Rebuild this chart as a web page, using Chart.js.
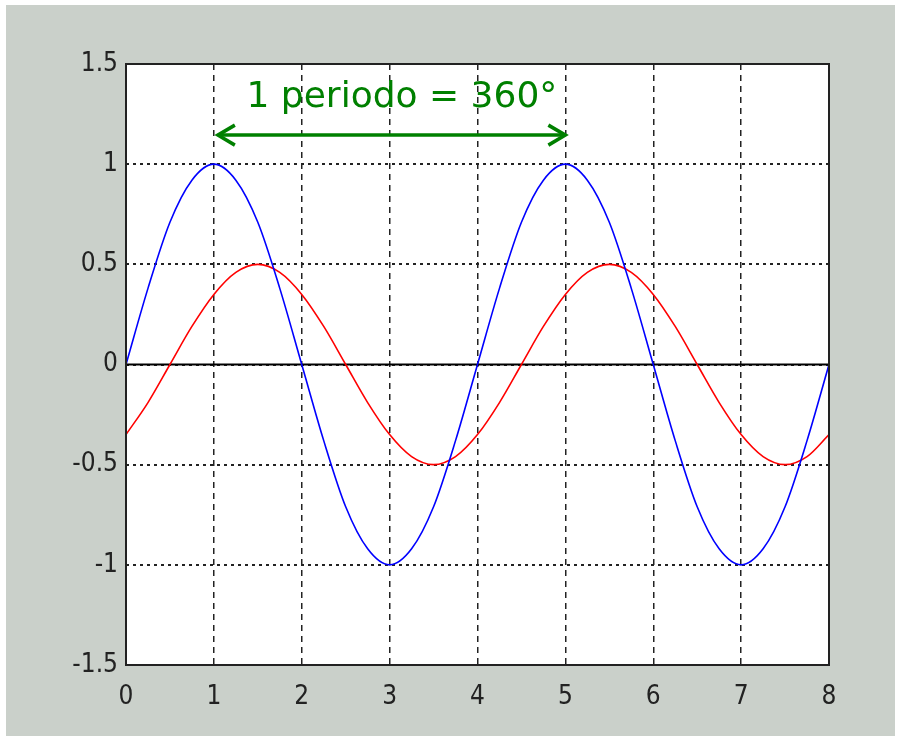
<!DOCTYPE html>
<html>
<head>
<meta charset="utf-8">
<title>1 periodo = 360°</title>
<script src="https://cdn.jsdelivr.net/npm/chart.js@4.4.1/dist/chart.umd.min.js"></script>
<style>
  html, body { margin: 0; padding: 0; background: #ffffff; }
  #wrap { position: absolute; left: 0; top: 0; width: 901px; height: 742px; }
  #frame { position: absolute; left: 6px; top: 5px; width: 889px; height: 731px; background: #cad0ca; }
  canvas { position: absolute; left: 0; top: 0; }
</style>
</head>
<body>
<div id="wrap">
  <div id="frame"></div>
  <canvas id="myChart" width="901" height="742"></canvas>
</div>
<script>
// valores (paso 0.25)
const xValues = [0, 0.25, 0.5, 0.75, 1, 1.25, 1.5, 1.75, 2, 2.25, 2.5, 2.75, 3, 3.25, 3.5, 3.75,
                 4, 4.25, 4.5, 4.75, 5, 5.25, 5.5, 5.75, 6, 6.25, 6.5, 6.75, 7, 7.25, 7.5, 7.75, 8];
const blueValues = [0, 0.38, 0.71, 0.92, 1, 0.92, 0.71, 0.38, 0, -0.38, -0.71, -0.92, -1, -0.92, -0.71, -0.38,
                    0, 0.38, 0.71, 0.92, 1, 0.92, 0.71, 0.38, 0, -0.38, -0.71, -0.92, -1, -0.92, -0.71, -0.38, 0];
const redValues = [-0.35, -0.19, 0, 0.19, 0.35, 0.46, 0.5, 0.46, 0.35, 0.19, 0, -0.19, -0.35, -0.46, -0.5, -0.46,
                   -0.35, -0.19, 0, 0.19, 0.35, 0.46, 0.5, 0.46, 0.35, 0.19, 0, -0.19, -0.35, -0.46, -0.5, -0.46, -0.35];
const xTicks = [0, 1, 2, 3, 4, 5, 6, 7, 8];
const yTicks = [-1.5, -1, -0.5, 0, 0.5, 1, 1.5];

// anotacion: flecha de un periodo
const periodStart = 1;
const periodEnd = 5;
const arrowY = 1.145;
const labelText = '1 periodo = 360°';
const labelX = 3.14;
const labelY = 1.33;

const tickFont = { family: "'Liberation Sans Narrow', 'DejaVu Sans Condensed', sans-serif", size: 26 };

const matlabPlugin = {
    id: 'matlabPlugin',
    beforeDraw(chart) {
        // fondo blanco del area de trazado
        const { ctx, chartArea } = chart;
        ctx.save();
        ctx.fillStyle = '#ffffff';
        ctx.fillRect(chartArea.left, chartArea.top, chartArea.right - chartArea.left, chartArea.bottom - chartArea.top);
        ctx.restore();
    },
    beforeDatasetsDraw(chart) {
        const { ctx, chartArea, scales } = chart;
        const y0 = scales.y.getPixelForValue(0);
        ctx.save();
        ctx.strokeStyle = '#000';
        ctx.lineWidth = 2;
        ctx.beginPath();
        ctx.moveTo(chartArea.left, y0);
        ctx.lineTo(chartArea.right, y0);
        ctx.stroke();
        ctx.restore();
    },
    afterDraw(chart) {
        const { ctx, chartArea, scales } = chart;
        ctx.save();
        // marco
        ctx.strokeStyle = '#222';
        ctx.lineWidth = 2;
        ctx.strokeRect(chartArea.left, chartArea.top, chartArea.right - chartArea.left, chartArea.bottom - chartArea.top);

        // flecha doble
        const x1 = scales.x.getPixelForValue(periodStart) + 4;
        const x2 = scales.x.getPixelForValue(periodEnd);
        const ya = scales.y.getPixelForValue(arrowY);
        ctx.strokeStyle = '#008000';
        ctx.lineWidth = 3.5;
        ctx.beginPath();
        ctx.moveTo(x1, ya);
        ctx.lineTo(x2, ya);
        ctx.stroke();
        ctx.beginPath();
        ctx.moveTo(x1 + 17, ya - 10);
        ctx.lineTo(x1, ya);
        ctx.lineTo(x1 + 17, ya + 10);
        ctx.moveTo(x2 - 17, ya - 10);
        ctx.lineTo(x2, ya);
        ctx.lineTo(x2 - 17, ya + 10);
        ctx.stroke();

        // texto
        ctx.fillStyle = '#008000';
        ctx.font = "36px 'DejaVu Sans', Verdana, sans-serif";
        ctx.textAlign = 'center';
        ctx.textBaseline = 'middle';
        ctx.fillText(labelText, scales.x.getPixelForValue(labelX), scales.y.getPixelForValue(labelY));
        ctx.restore();
    }
};

const ctx = document.getElementById('myChart').getContext('2d');
new Chart(ctx, {
    type: 'line',
    data: {
        datasets: [{
            label: 'seno',
            data: xValues.map((x, i) => ({ x: x, y: blueValues[i] })),
            borderColor: '#0000ff',
            borderWidth: 1.6,
            pointRadius: 0,
            cubicInterpolationMode: 'monotone'
        }, {
            label: 'seno desfasado',
            data: xValues.map((x, i) => ({ x: x, y: redValues[i] })),
            borderColor: '#ff0000',
            borderWidth: 1.6,
            pointRadius: 0,
            cubicInterpolationMode: 'monotone'
        }]
    },
    options: {
        responsive: false,
        animation: false,
        layout: { padding: { left: 0, top: 64, right: 72, bottom: 0 } },
        plugins: {
            legend: { display: false },
            tooltip: { enabled: false }
        },
        scales: {
            x: {
                type: 'linear',
                min: 0,
                max: 8,
                afterBuildTicks: axis => { axis.ticks = xTicks.map(v => ({ value: v })); },
                afterFit: axis => { axis.height = 77; },
                grid: { color: '#222', lineWidth: 1.5, drawTicks: false },
                border: { display: false, dash: [6, 5] },
                ticks: { color: '#222', font: tickFont, padding: 17, maxRotation: 0, callback: v => String(v) }
            },
            y: {
                type: 'linear',
                min: -1.5,
                max: 1.5,
                afterBuildTicks: axis => { axis.ticks = yTicks.map(v => ({ value: v })); },
                afterFit: axis => { axis.width = 126; },
                grid: { color: '#222', lineWidth: 2, drawTicks: false },
                border: { display: false, dash: [3, 4] },
                ticks: { color: '#222', font: tickFont, padding: 8, callback: v => String(v) }
            }
        }
    },
    plugins: [matlabPlugin]
});
</script>
</body>
</html>
